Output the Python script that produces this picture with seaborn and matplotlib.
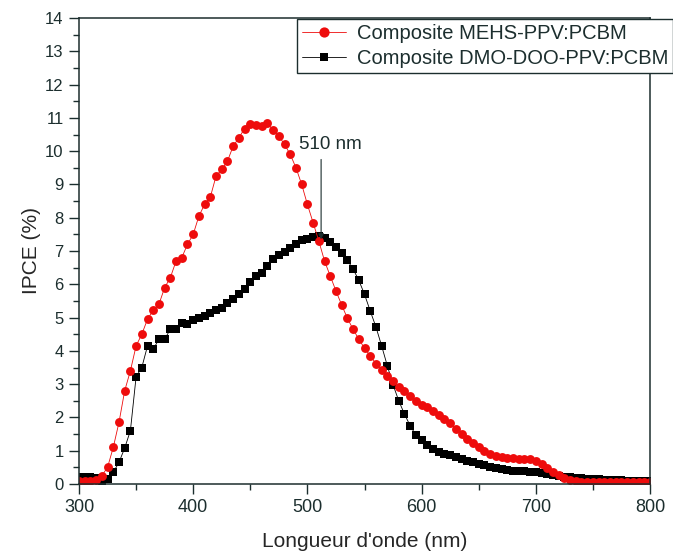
import numpy as np
import matplotlib
matplotlib.use("Agg")
import matplotlib.pyplot as plt
import seaborn as sns
from matplotlib.ticker import MultipleLocator, AutoMinorLocator

# DATA (5 nm steps)
wavelength = [300, 305, 310, 315, 320, 325, 330, 335, 340, 345,
              350, 355, 360, 365, 370, 375, 380, 385, 390, 395,
              400, 405, 410, 415, 420, 425, 430, 435, 440, 445,
              450, 455, 460, 465, 470, 475, 480, 485, 490, 495,
              500, 505, 510, 515, 520, 525, 530, 535, 540, 545,
              550, 555, 560, 565, 570, 575, 580, 585, 590, 595,
              600, 605, 610, 615, 620, 625, 630, 635, 640, 645,
              650, 655, 660, 665, 670, 675, 680, 685, 690, 695,
              700, 705, 710, 715, 720, 725, 730, 735, 740, 745,
              750, 755, 760, 765, 770, 775, 780, 785, 790, 795, 800]

ipce_mehs = [0.10, 0.10, 0.10, 0.12, 0.25, 0.50, 1.10, 1.85, 2.80, 3.40,
             4.15, 4.50, 4.95, 5.22, 5.40, 5.90, 6.20, 6.70, 6.80, 7.20,
             7.50, 8.05, 8.40, 8.62, 9.25, 9.45, 9.70, 10.15, 10.40, 10.68,
             10.82, 10.80, 10.75, 10.84, 10.63, 10.45, 10.20, 9.90, 9.50, 9.00,
             8.40, 7.85, 7.30, 6.70, 6.25, 5.80, 5.38, 4.98, 4.65, 4.35,
             4.08, 3.85, 3.62, 3.42, 3.25, 3.08, 2.92, 2.78, 2.64, 2.50,
             2.38, 2.30, 2.20, 2.08, 1.96, 1.82, 1.66, 1.50, 1.36, 1.22,
             1.10, 0.98, 0.90, 0.84, 0.80, 0.78, 0.77, 0.76, 0.75, 0.74,
             0.70, 0.60, 0.48, 0.36, 0.27, 0.19, 0.13, 0.10, 0.07, 0.06,
             0.05, 0.05, 0.05, 0.05, 0.05, 0.05, 0.05, 0.05, 0.05, 0.05, 0.05]

ipce_dmo = [0.20, 0.22, 0.20, 0.18, 0.10, 0.15, 0.35, 0.65, 1.08, 1.60,
            3.22, 3.50, 4.15, 4.05, 4.35, 4.35, 4.65, 4.65, 4.85, 4.82,
            4.92, 5.00, 5.05, 5.15, 5.22, 5.30, 5.45, 5.57, 5.70, 5.86,
            6.08, 6.26, 6.35, 6.55, 6.77, 6.88, 6.97, 7.08, 7.22, 7.32,
            7.37, 7.43, 7.45, 7.40, 7.28, 7.12, 6.95, 6.72, 6.46, 6.12,
            5.70, 5.20, 4.72, 4.15, 3.55, 2.98, 2.50, 2.10, 1.75, 1.47,
            1.32, 1.16, 1.05, 0.96, 0.90, 0.86, 0.81, 0.76, 0.70, 0.65,
            0.61, 0.56, 0.52, 0.48, 0.45, 0.42, 0.40, 0.39, 0.38, 0.37,
            0.36, 0.34, 0.30, 0.26, 0.23, 0.21, 0.20, 0.18, 0.17, 0.16,
            0.15, 0.14, 0.13, 0.12, 0.12, 0.11, 0.10, 0.09, 0.09, 0.08, 0.08]

label_mehs = "Composite MEHS-PPV:PCBM"
label_dmo = "Composite DMO-DOO-PPV:PCBM"
peak_nm = 510
peak_ipce = 7.35

# STYLE
sns.set_style("ticks")
ink = "#1c2e2e"
plt.rcParams["font.family"] = ["Liberation Sans", "DejaVu Sans"]
plt.rcParams["text.color"] = ink
plt.rcParams["axes.edgecolor"] = ink
plt.rcParams["xtick.color"] = ink
plt.rcParams["ytick.color"] = ink

fig = plt.figure(figsize=(6.73, 5.57), dpi=100)
ax = fig.add_axes([79 / 673, 1 - 484 / 557, 571 / 673, 466 / 557])

# black first so red sits on top, as in the reference
sns.lineplot(x=wavelength, y=ipce_dmo, ax=ax, color="black", marker="s",
             markersize=5.4, markeredgewidth=0, linewidth=0.6,
             estimator=None, sort=False, label=label_dmo)
sns.lineplot(x=wavelength, y=ipce_mehs, ax=ax, color="#ee0c0c", marker="o",
             markersize=6.4, markeredgewidth=0, linewidth=0.6,
             estimator=None, sort=False, label=label_mehs)

ax.set_xlim(300, 800)
ax.set_ylim(0, 14)
ax.xaxis.set_major_locator(MultipleLocator(100))
ax.xaxis.set_minor_locator(AutoMinorLocator(2))
ax.yaxis.set_major_locator(MultipleLocator(1))
ax.yaxis.set_minor_locator(AutoMinorLocator(2))
ax.tick_params(which="major", direction="out", length=7, width=1, pad=4)
ax.tick_params(which="minor", direction="out", length=4, width=1)
ax.tick_params(axis="x", labelsize=13)
ax.tick_params(axis="y", labelsize=12)
for s in ax.spines.values():
    s.set_linewidth(1.1)

ax.set_xlabel("Longueur d'onde (nm)", fontsize=15, labelpad=11)
ax.set_ylabel("IPCE (%)", fontsize=15, labelpad=3)

# 510 nm marker
ax.text(peak_nm + 10, 10.2, "510 nm", fontsize=13.5, ha="center", va="center")
ax.annotate("", xy=(peak_nm + 2, peak_ipce), xytext=(peak_nm + 2, 9.75),
            arrowprops=dict(arrowstyle="-|>", color=ink, lw=0.8,
                            mutation_scale=8, shrinkA=0, shrinkB=0))

handles, labels = ax.get_legend_handles_labels()
leg = ax.legend(handles[::-1], labels[::-1], loc="upper left",
                bbox_to_anchor=(0.381, 0.998), borderaxespad=0,
                fontsize=14.5, handlelength=2.2, handletextpad=0.55,
                labelspacing=0.3, borderpad=0.25, fancybox=False,
                framealpha=1, edgecolor=ink, markerscale=1.15)
leg.get_frame().set_linewidth(1.0)

fig.savefig("out.png", dpi=100)
